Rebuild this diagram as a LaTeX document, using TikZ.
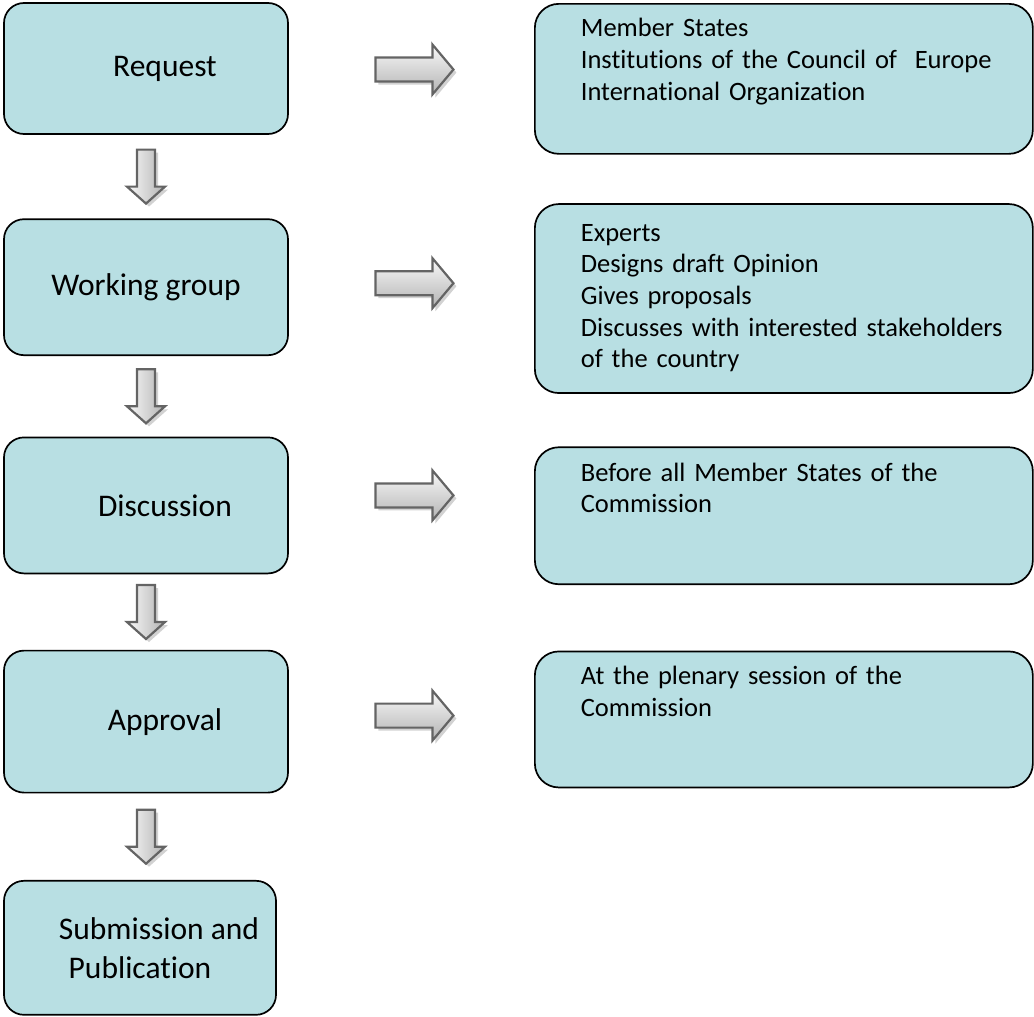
\documentclass[tikz,border=0pt]{standalone}
\usepackage{fontspec}
\setmainfont{Carlito}[Ligatures=NoCommon]
\usepackage{xcolor}
\usepackage{tikz}
\usetikzlibrary{positioning, calc}

\definecolor{boxfill}{RGB}{184,223,227}
\definecolor{arrowedge}{RGB}{100,100,100}
\newcommand{\leadgap}{\hspace*{38pt}}

\begin{document}
\begin{tikzpicture}[
    x=1pt, y=1pt,
    stepbox/.style={rectangle, draw, line width=1.7pt, rounded corners=20pt, fill=boxfill, minimum width=284pt, align=center, font=\fontsize{31.5pt}{39pt}\selectfont},
    infobox/.style={rectangle, draw, line width=1.7pt, rounded corners=24pt, fill=boxfill, text width=498pt, inner sep=0pt, align=left, text height=34pt, font=\fontsize{26.5pt}{31.7pt}\selectfont, execute at begin node={\leftskip=46pt}},
    arrowline/.style={draw=arrowedge, line width=2.2pt, line join=miter},
    harrow/.pic={
        \fill[gray!35, xshift=3pt, yshift=-3pt] (-39,12) -- (18,12) -- (18,25) -- (39,0) -- (18,-25) -- (18,-12) -- (-39,-12) -- cycle;
        \path[arrowline, top color=gray!5, bottom color=gray!60] (-39,12) -- (18,12) -- (18,25) -- (39,0) -- (18,-25) -- (18,-12) -- (-39,-12) -- cycle;
    },
    varrow/.pic={
        \fill[gray!35, xshift=3pt, yshift=-3pt] (-9,27) -- (9,27) -- (9,-10) -- (19,-10) -- (0,-27) -- (-19,-10) -- (-9,-10) -- cycle;
        \path[arrowline, left color=gray!5, right color=gray!60] (-9,27) -- (9,27) -- (9,-10) -- (19,-10) -- (0,-27) -- (-19,-10) -- (-9,-10) -- cycle;
    },
]
\useasboundingbox (0,0) rectangle (1034,-1017);

% Left column: procedure steps
\node[stepbox, minimum height=131pt] (req) at (146,-68.5) {\leadgap Request};
\node[stepbox, minimum height=136pt, below=83.5pt of req] (work) {Working group};
\node[stepbox, minimum height=136pt, below=80.5pt of work] (disc) {\leadgap Discussion};
\node[stepbox, minimum height=142pt, below=75.5pt of disc] (appr) {\leadgap Approval};
\node[stepbox, minimum height=134pt, minimum width=272pt, below=86.5pt of appr, xshift=-6pt] (subm) {\leadgap Submission and\\Publication};

% Right column: details
\node[infobox, text height=33pt, text depth=117pt, anchor=north west] (memb) at (534,-3) {Member States\\Institutions of the Council of\ \ Europe\\International Organization};
\node[infobox, text height=37pt, text depth=152pt, below=48.5pt of memb] (expt) {Experts\\Designs draft Opinion\\Gives proposals\\Discusses with interested stakeholders\\of the country};
\node[infobox, text depth=103pt, below=52.5pt of expt] (befr) {Before all Member States of the\\Commission};
\node[infobox, text height=33pt, text depth=103pt, below=65.5pt of befr] (plen) {At the plenary session of the\\Commission};

% Block arrows
\pic at ($(req.south)!0.5!(work.north)$) {varrow};
\pic at ($(work.south)!0.5!(disc.north)$) {varrow};
\pic at ($(disc.south)!0.5!(appr.north)$) {varrow};
\pic at ($(appr.south)!0.5!(subm.north -| appr.south)$) {varrow};

\pic at ($(req.east)!0.5!(req.east -| memb.west)+(3,-1)$) {harrow};
\pic at ($(work.east)!0.5!(work.east -| expt.west)+(3,4)$) {harrow};
\pic at ($(disc.east)!0.5!(disc.east -| befr.west)+(3,10)$) {harrow};
\pic at ($(appr.east)!0.5!(appr.east -| plen.west)+(3,6)$) {harrow};

\end{tikzpicture}
\end{document}
